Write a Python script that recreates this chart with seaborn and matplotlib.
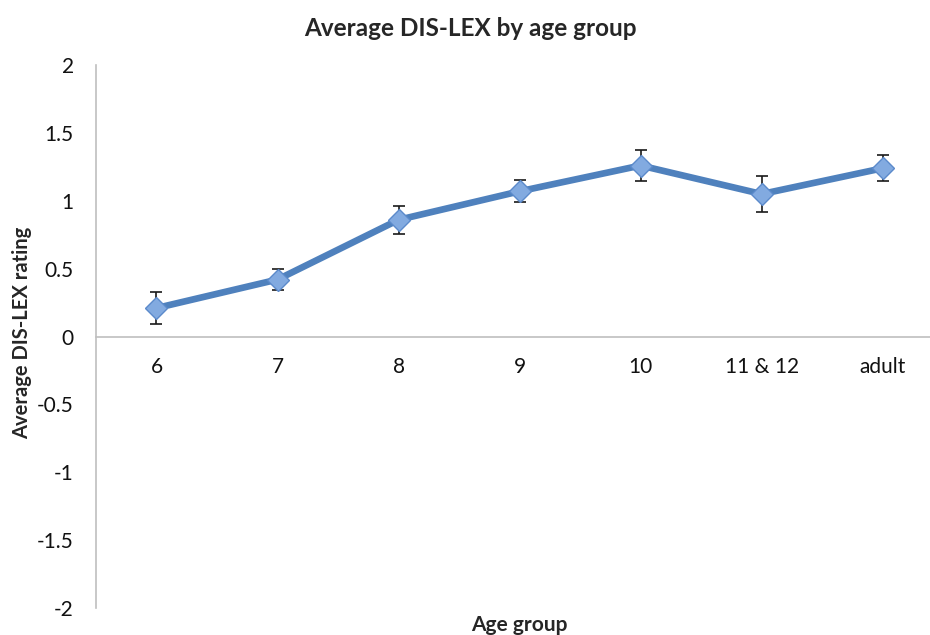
import matplotlib
matplotlib.use("Agg")
import matplotlib.pyplot as plt
import seaborn as sns
import pandas as pd
import numpy as np

categories = ["6", "7", "8", "9", "10", "11 & 12", "adult"]
means = [0.21, 0.42, 0.86, 1.07, 1.26, 1.05, 1.24]
errors = [0.115, 0.08, 0.105, 0.08, 0.115, 0.13, 0.095]
y_ticks = [-2, -1.5, -1, -0.5, 0, 0.5, 1, 1.5, 2]
y_tick_labels = ["-2", "-1.5", "-1", "-0.5", "0", "0.5", "1", "1.5", "2"]

sns.set_theme(style="white")
plt.rcParams['font.family'] = ['Lato', 'DejaVu Sans']

df = pd.DataFrame({"age": categories, "mean": means, "err": errors})
df["pos"] = np.arange(len(df))

fig = plt.figure(figsize=(9.3, 6.35), dpi=100)
ax = fig.add_axes([0.1032, 0.0425, 0.911, 0.855])

line_color = "#4F81BD"
ax.errorbar(df["pos"], df["mean"], yerr=df["err"], fmt="none", ecolor="#1a1a1a",
            elinewidth=1.2, capsize=4, capthick=1.2, zorder=2)
sns.lineplot(data=df, x="pos", y="mean", ax=ax, color=line_color, linewidth=4.8,
             sort=False, zorder=3)
ax.plot(df["pos"], df["mean"], linestyle="none", marker="D", markersize=11.5,
        markerfacecolor="#82AAE0", markeredgecolor="#5B8ACB", markeredgewidth=1, zorder=4)

for s in ["top", "right"]:
    ax.spines[s].set_visible(False)
ax.spines["bottom"].set_position(("data", 0))
ax.spines["bottom"].set_color("#BFBFBF")
ax.spines["left"].set_color("#BFBFBF")
ax.spines["bottom"].set_linewidth(1.2)
ax.spines["left"].set_linewidth(1.2)

ax.set_xlim(-0.5, len(categories) - 0.5)
ax.set_ylim(-2, 2)
ax.set_xticks(df["pos"])
ax.set_xticklabels(categories)
ax.set_yticks(y_ticks)
ax.set_yticklabels(y_tick_labels)
ax.tick_params(axis="both", length=0, labelsize=15, labelcolor="#111111")
ax.tick_params(axis="x", pad=15)
ax.tick_params(axis="y", pad=16)

ax.set_xlabel("")
ax.set_ylabel("")
fig.text(0.5055, 0.955, "Average DIS-LEX by age group", ha="center", va="center",
         fontsize=17.5, fontweight="bold")
fig.text(0.024, 0.476, "Average DIS-LEX rating", ha="center", va="center",
         rotation=90, fontsize=14.5, fontweight="bold")
fig.text(0.558, 0.015, "Age group", ha="center", va="center", fontsize=15, fontweight="bold")

fig.savefig("out.png", dpi=100)
